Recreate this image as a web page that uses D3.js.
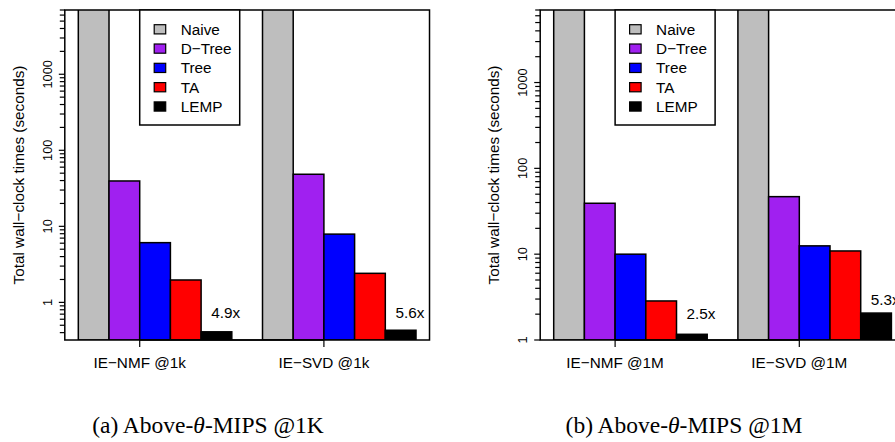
<!DOCTYPE html>
<html><head><meta charset="utf-8">
<script src="https://cdn.jsdelivr.net/npm/d3@7"></script>
<style>body{margin:0;background:#fff} svg{display:block}</style>
</head><body>
<svg id="c" width="895" height="442"></svg>
<script>
// ---- data ----
const methods = ["Naive", "D\u2212Tree", "Tree", "TA", "LEMP"];
const colors = ["#BEBEBE", "#A020F0", "#0000FF", "#FF0000", "#000000"];

const groupsA = ["IE\u2212NMF @1k", "IE\u2212SVD @1k"];
const valuesA_NMF = [9000, 39.5, 6.1, 1.97, 0.41];
const valuesA_SVD = [9000, 48.4, 7.9, 2.41, 0.43];
const speedupA = ["4.9x", "5.6x"];
const speedupAtA = [0.73, 0.73];
const yDomainA = [0.32, 7000];

const groupsB = ["IE\u2212NMF @1M", "IE\u2212SVD @1M"];
const valuesB_NMF = [9000, 39.2, 10.0, 2.85, 1.165];
const valuesB_SVD = [9000, 46.8, 12.5, 10.9, 2.06];
const speedupB = ["2.5x", "5.3x"];
const speedupAtB = [2.06, 3.0];
const yDomainB = [1, 7000];

const majorTicks = [0.1, 1, 10, 100, 1000];
const yTitle = "Total wall\u2212clock times (seconds)";
const captionPrefix = ["(a) Above-", "(b) Above-"];
const captionSuffix = ["-MIPS @1K", "-MIPS @1M"];

// ---- drawing ----
const svg = d3.select("#c");
const FONT = "'Liberation Sans', Arial, Helvetica, sans-serif";

function panel(id, left, groups, series, speedups, speedAt, yDomain, capCenter, capIdx) {
  const top = 10, bottom = 340, unit = 30.7;
  const x = d3.scaleLinear().domain([0.56, 12.44]).range([left, left + 11.88 * unit]);
  const y = d3.scaleLog().domain(yDomain).range([bottom, top]);
  const g = svg.append("g");
  const clipId = "clip" + id;
  svg.append("clipPath").attr("id", clipId).append("rect")
    .attr("x", x.range()[0]).attr("y", top).attr("width", x.range()[1] - x.range()[0]).attr("height", bottom - top);

  // bars
  const bars = g.append("g").attr("clip-path", `url(#${clipId})`);
  series.forEach((vals, gi) => {
    vals.forEach((v, j) => {
      const x0 = 1 + gi * 6 + j;
      bars.append("rect")
        .attr("x", x(x0)).attr("width", x(x0 + 1) - x(x0))
        .attr("y", y(v)).attr("height", bottom - y(v))
        .attr("fill", colors[j]).attr("stroke", "#000").attr("stroke-width", 1.5);
    });
  });

  // box
  g.append("rect").attr("x", x.range()[0]).attr("y", top)
    .attr("width", x.range()[1] - x.range()[0]).attr("height", bottom - top)
    .attr("fill", "none").attr("stroke", "#000").attr("stroke-width", 1.5);

  // y ticks
  const ticks = [];
  majorTicks.forEach(d => { for (let k = 1; k <= 9; k++) { const v = d * k; if (v >= yDomain[0] * 0.999 && v <= yDomain[1] * 1.001) ticks.push({v, major: k === 1}); } });
  const ya = g.append("g");
  ya.selectAll("line").data(ticks).join("line")
    .attr("x1", x.range()[0]).attr("x2", d => x.range()[0] - (d.major ? 6 : 5))
    .attr("y1", d => y(d.v)).attr("y2", d => y(d.v))
    .attr("stroke", "#000").attr("stroke-width", 1.2);
  ya.selectAll("text").data(ticks.filter(d => d.major)).join("text")
    .attr("transform", d => `translate(${x.range()[0] - 17.5},${y(d.v)}) rotate(-90)`)
    .attr("text-anchor", "middle").attr("dominant-baseline", "central")
    .attr("font-family", FONT).attr("font-size", 12.8)
    .text(d => d3.format("~g")(d.v));

  g.append("text")
    .attr("transform", `translate(${x.range()[0] - 46.5},175) rotate(-90)`)
    .attr("text-anchor", "middle").attr("dominant-baseline", "central")
    .attr("font-family", FONT).attr("font-size", 15.3).text(yTitle);

  // x axis
  const xt = groups.map((gname, i) => ({name: gname, u: 3 + 6 * i}));
  g.append("line").attr("x1", x(xt[0].u)).attr("x2", x(xt[xt.length - 1].u))
    .attr("y1", bottom).attr("y2", bottom).attr("stroke", "#000").attr("stroke-width", 1.5);
  g.selectAll(".xt").data(xt).join("line")
    .attr("x1", d => x(d.u)).attr("x2", d => x(d.u)).attr("y1", bottom).attr("y2", bottom + 7)
    .attr("stroke", "#000").attr("stroke-width", 1.2);
  g.selectAll(".xl").data(xt).join("text")
    .attr("x", d => x(d.u)).attr("y", bottom + 22).attr("dominant-baseline", "central")
    .attr("text-anchor", "middle").attr("font-family", FONT).attr("font-size", 15.3)
    .text(d => d.name);

  // speedup labels
  speedups.forEach((s, i) => {
    g.append("text").attr("x", x(1 + 6 * i + 4.8)).attr("y", y(speedAt[i]))
      .attr("dominant-baseline", "central").attr("text-anchor", "middle")
      .attr("font-family", FONT).attr("font-size", 15.3).text(s);
  });

  // legend
  const lx = x(3), lw = 100, lh = 115;
  const leg = g.append("g");
  leg.append("rect").attr("x", lx).attr("y", top).attr("width", lw).attr("height", lh)
    .attr("fill", "#fff").attr("stroke", "#000").attr("stroke-width", 1.5);
  methods.forEach((m, i) => {
    const cy = 29.3 + i * 19.3;
    leg.append("rect").attr("x", lx + 14.5).attr("y", cy - 4.6).attr("width", 11.5).attr("height", 9.2)
      .attr("fill", colors[i]).attr("stroke", "#000").attr("stroke-width", 1.2);
    leg.append("text").attr("x", lx + 41).attr("y", cy).attr("dominant-baseline", "central")
      .attr("font-family", FONT).attr("font-size", 15.3).text(m);
  });

  // caption
  const cap = svg.append("text").attr("x", capCenter).attr("y", 425)
    .attr("text-anchor", "middle").attr("dominant-baseline", "central")
    .attr("font-family", "'Liberation Serif', 'Times New Roman', serif").attr("font-size", 23.5);
  cap.append("tspan").text(captionPrefix[capIdx]);
  cap.append("tspan").attr("font-style", "italic").text("\u03B8");
  cap.append("tspan").text(captionSuffix[capIdx]);
}

panel("a", 64.8, groupsA, [valuesA_NMF, valuesA_SVD], speedupA, speedupAtA, yDomainA, 208, 0);
panel("b", 540.2, groupsB, [valuesB_NMF, valuesB_SVD], speedupB, speedupAtB, yDomainB, 684, 1);
</script>
</body></html>
